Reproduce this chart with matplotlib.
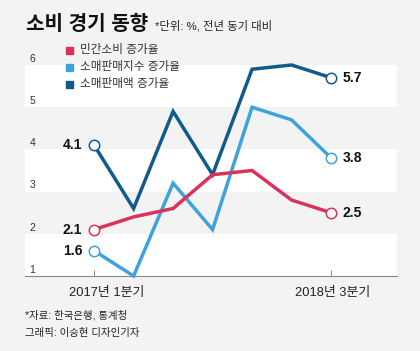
import matplotlib
matplotlib.use('Agg')
import matplotlib.pyplot as plt

plt.rcParams['font.family'] = ['Liberation Sans', 'Noto Sans CJK KR', 'DejaVu Sans']

quarters = ['2017년 1분기', '2017년 2분기', '2017년 3분기', '2017년 4분기',
            '2018년 1분기', '2018년 2분기', '2018년 3분기']
consumption = [2.1, 2.4, 2.6, 3.4, 3.5, 2.8, 2.5]
retail_index = [1.6, 1.0, 3.2, 2.1, 5.0, 4.7, 3.8]
retail_value = [4.1, 2.6, 4.9, 3.4, 5.9, 6.0, 5.7]

names = ['민간소비 증가율', '소매판매지수 증가율', '소매판매액 증가율']
colors = ['#d9335c', '#3ea3dc', '#115b8c']
series = [consumption, retail_index, retail_value]

bg = '#f3f3f3'
fig = plt.figure(figsize=(4.2, 3.51), dpi=100, facecolor=bg)
ax = fig.add_axes([25/420, 75/351, 372/420, 211/351])
ax.set_facecolor(bg)

x = list(range(len(quarters)))
ax.set_xlim(-1.75, 7.67)
ax.set_ylim(1, 6)

# 흰색 띠
for lo in (1, 3, 5):
    ax.axhspan(lo, lo + 1, color='white', zorder=0, lw=0)

# 선 그리기 (뒤에서부터)
for vals, c in zip(series[::-1], colors[::-1]):
    ax.plot(x, vals, color=c, lw=2.5, zorder=3, clip_on=False,
            solid_joinstyle='miter')
    for i in (0, len(x) - 1):
        ax.plot(x[i], vals[i], 'o', ms=7.5, mfc='white', mec=c, mew=1.1,
                zorder=4, clip_on=False)
    ax.text(x[0] - 0.3, vals[0], f'{vals[0]:.1f}', ha='right', va='center',
            fontsize=10, fontweight='bold', color='#111111')
    ax.text(x[-1] + 0.3, vals[-1], f'{vals[-1]:.1f}', ha='left', va='center',
            fontsize=10, fontweight='bold', color='#111111')

# y축 눈금 글자
for v in range(1, 7):
    ax.text(0.012, v + 0.03, str(v), transform=ax.get_yaxis_transform(),
            ha='left', va='bottom', fontsize=7.5, color='#333333')

for s in ['top', 'right', 'left']:
    ax.spines[s].set_visible(False)
ax.spines['bottom'].set_color('#888888')
ax.spines['bottom'].set_linewidth(0.8)
ax.set_yticks([])
ax.set_xticks([x[0], x[-1]])
ax.set_xticklabels([])
ax.tick_params(axis='x', direction='in', length=4, color='#888888', width=0.7)

ax.text(x[0] + 0.33, 0.59, quarters[0], ha='center', va='center',
        fontsize=9.3, color='#222222')
ax.text(x[-1] + 0.05, 0.59, quarters[-1], ha='center', va='center',
        fontsize=9.3, color='#222222')

# 범례
for k, (n, c) in enumerate(zip(names, colors)):
    yy = 1 - (50 + k * 17) / 351
    fig.patches.append(plt.Rectangle((66/420, yy - 3.5/351), 7/420, 7/351,
                                     transform=fig.transFigure, color=c))
    fig.text(80/420, yy, n, ha='left', va='center', fontsize=8.4, color='#333333')

fig.text(26/420, 1 - 24/351, '소비 경기 동향', ha='left', va='center',
         fontsize=14.5, fontweight='bold', color='#111111')
fig.text(155/420, 1 - 26/351, '*단위: %, 전년 동기 대비', ha='left', va='center',
         fontsize=8.2, color='#222222')
fig.text(25/420, 1 - 315/351, '*자료: 한국은행, 통계청', ha='left', va='center',
         fontsize=7.5, color='#222222')
fig.text(25/420, 1 - 333/351, '그래픽: 이승현 디자인기자', ha='left', va='center',
         fontsize=7.5, color='#222222')

fig.savefig('out.png', dpi=100, facecolor=bg)
